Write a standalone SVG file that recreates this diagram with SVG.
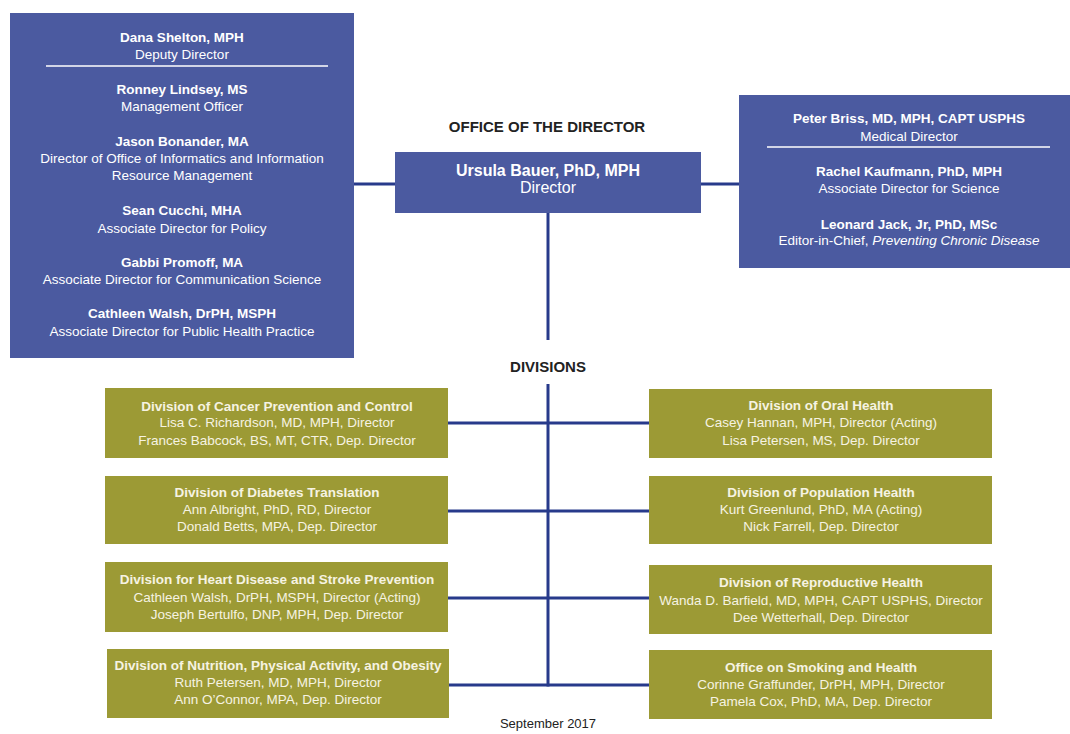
<svg xmlns="http://www.w3.org/2000/svg" width="1070" height="734" viewBox="0 0 1070 734">
<style>
.bx{fill:#4b5aa0}
.dv{fill:#9c9a35}
.ln{stroke:#273a8b;stroke-width:3;fill:none}
.sep{stroke:#ffffff;stroke-width:1.5}
text{font-family:"Liberation Sans Narrow","Liberation Sans",Arial,sans-serif;text-anchor:middle}
.w{fill:#ffffff;font-size:13.5px}
.c{fill:#f6f3e2;font-size:13.5px}
.b{font-weight:bold}
.h{fill:#222;font-size:15px;font-weight:bold}
.i{font-style:italic}
</style>
<rect width="1070" height="734" fill="#ffffff"/>
<g id="connectors">
<line class="ln" x1="354" y1="184" x2="395" y2="184"/>
<line class="ln" x1="701" y1="184" x2="740" y2="184"/>
<line class="ln" x1="548" y1="213" x2="548" y2="340"/>
<line class="ln" x1="548" y1="384" x2="548" y2="686.5"/>
<line class="ln" x1="448" y1="423" x2="649" y2="423"/>
<line class="ln" x1="448" y1="511" x2="649" y2="511"/>
<line class="ln" x1="448" y1="598" x2="649" y2="598"/>
<line class="ln" x1="449" y1="685" x2="649" y2="685"/>
</g>
<g id="staff-left">
<rect class="bx" x="10" y="13" width="344" height="345"/>
<line class="sep" x1="46" y1="66" x2="328" y2="66"/>
<text class="w b" x="182" y="42">Dana Shelton, MPH</text>
<text class="w" x="182" y="59">Deputy Director</text>
<text class="w b" x="182" y="94">Ronney Lindsey, MS</text>
<text class="w" x="182" y="111">Management Officer</text>
<text class="w b" x="182" y="146">Jason Bonander, MA</text>
<text class="w" x="182" y="163">Director of Office of Informatics and Information</text>
<text class="w" x="182" y="180">Resource Management</text>
<text class="w b" x="182" y="215">Sean Cucchi, MHA</text>
<text class="w" x="182" y="233">Associate Director for Policy</text>
<text class="w b" x="182" y="267">Gabbi Promoff, MA</text>
<text class="w" x="182" y="284">Associate Director for Communication Science</text>
<text class="w b" x="182" y="318">Cathleen Walsh, DrPH, MSPH</text>
<text class="w" x="182" y="336">Associate Director for Public Health Practice</text>
</g>
<g id="office-title">
<text class="h" x="547" y="132">OFFICE OF THE DIRECTOR</text>
</g>
<g id="director">
<rect class="bx" x="395" y="152" width="306" height="61"/>
<text class="w b" x="548" y="176" style="font-size:16px">Ursula Bauer, PhD, MPH</text>
<text class="w" x="548" y="193" style="font-size:16px">Director</text>
</g>
<g id="staff-right">
<rect class="bx" x="739" y="95" width="331" height="173"/>
<line class="sep" x1="767" y1="147" x2="1050" y2="147"/>
<text class="w b" x="909" y="123">Peter Briss, MD, MPH, CAPT USPHS</text>
<text class="w" x="909" y="141">Medical Director</text>
<text class="w b" x="909" y="176">Rachel Kaufmann, PhD, MPH</text>
<text class="w" x="909" y="193">Associate Director for Science</text>
<text class="w b" x="909" y="229">Leonard Jack, Jr, PhD, MSc</text>
<text class="w" x="909" y="245">Editor-in-Chief, <tspan class="i">Preventing Chronic Disease</tspan></text>
</g>
<g id="divisions-title">
<text class="h" x="548" y="372">DIVISIONS</text>
</g>
<g id="div-cancer">
<rect class="dv" x="105" y="388" width="343" height="70"/>
<text class="c b" x="277" y="411">Division of Cancer Prevention and Control</text>
<text class="c" x="277" y="427">Lisa C. Richardson, MD, MPH, Director</text>
<text class="c" x="277" y="445">Frances Babcock, BS, MT, CTR, Dep. Director</text>
</g>
<g id="div-diabetes">
<rect class="dv" x="105" y="476" width="343" height="68"/>
<text class="c b" x="277" y="497">Division of Diabetes Translation</text>
<text class="c" x="277" y="514">Ann Albright, PhD, RD, Director</text>
<text class="c" x="277" y="531">Donald Betts, MPA, Dep. Director</text>
</g>
<g id="div-heart">
<rect class="dv" x="105" y="562" width="343" height="70"/>
<text class="c b" x="277" y="584">Division for Heart Disease and Stroke Prevention</text>
<text class="c" x="277" y="602">Cathleen Walsh, DrPH, MSPH, Director (Acting)</text>
<text class="c" x="277" y="619">Joseph Bertulfo, DNP, MPH, Dep. Director</text>
</g>
<g id="div-nutrition">
<rect class="dv" x="107" y="649" width="342" height="69"/>
<text class="c b" x="278" y="670">Division of Nutrition, Physical Activity, and Obesity</text>
<text class="c" x="278" y="687">Ruth Petersen, MD, MPH, Director</text>
<text class="c" x="278" y="704">Ann O’Connor, MPA, Dep. Director</text>
</g>
<g id="div-oral">
<rect class="dv" x="649" y="389" width="343" height="69"/>
<text class="c b" x="821" y="410">Division of Oral Health</text>
<text class="c" x="821" y="427">Casey Hannan, MPH, Director (Acting)</text>
<text class="c" x="821" y="445">Lisa Petersen, MS, Dep. Director</text>
</g>
<g id="div-population">
<rect class="dv" x="649" y="476" width="343" height="68"/>
<text class="c b" x="821" y="497">Division of Population Health</text>
<text class="c" x="821" y="514">Kurt Greenlund, PhD, MA (Acting)</text>
<text class="c" x="821" y="531">Nick Farrell, Dep. Director</text>
</g>
<g id="div-reproductive">
<rect class="dv" x="649" y="565" width="343" height="69"/>
<text class="c b" x="821" y="587">Division of Reproductive Health</text>
<text class="c" x="821" y="605">Wanda D. Barfield, MD, MPH, CAPT USPHS, Director</text>
<text class="c" x="821" y="622">Dee Wetterhall, Dep. Director</text>
</g>
<g id="div-smoking">
<rect class="dv" x="649" y="650" width="343" height="69"/>
<text class="c b" x="821" y="672">Office on Smoking and Health</text>
<text class="c" x="821" y="689">Corinne Graffunder, DrPH, MPH, Director</text>
<text class="c" x="821" y="706">Pamela Cox, PhD, MA, Dep. Director</text>
</g>
<g id="footer">
<text x="548" y="728" style="fill:#222;font-size:13px">September 2017</text>
</g>
</svg>
